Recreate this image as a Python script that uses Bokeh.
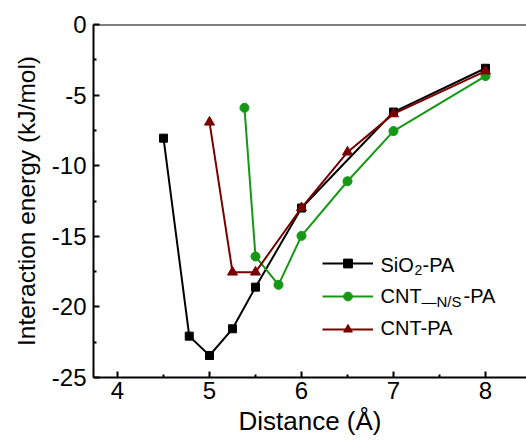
from bokeh.plotting import figure
from bokeh.models import (Range1d, Legend, LegendItem, Label, Span, FixedTicker)
from bokeh.embed import file_html
from bokeh.resources import INLINE

# ---- data ----
x_sio2 = [4.5, 4.78, 5.0, 5.25, 5.5, 6.0, 7.0, 8.0]
y_sio2 = [-8.05, -22.07, -23.44, -21.55, -18.6, -13.0, -6.2, -3.1]

x_cntns = [5.38, 5.5, 5.75, 6.0, 6.5, 7.0, 8.0]
y_cntns = [-5.9, -16.43, -18.44, -14.97, -11.1, -7.55, -3.65]

x_cnt = [5.0, 5.25, 5.5, 6.0, 6.5, 7.0, 8.0]
y_cnt = [-6.92, -17.54, -17.54, -12.98, -9.04, -6.33, -3.3]

x_ticks = [4, 5, 6, 7, 8]
y_ticks = [0, -5, -10, -15, -20, -25]
y_tick_labels = ["0", "-5", "-10", "-15", "-20", "-25"]

FONT = "Liberation Sans"
BLACK = "#000000"
GREEN = "#169816"
RED = "#7a0000"

W, H = 526, 446
LEFT, TOP, BOTTOM = 93, 24, 69

p = figure(width=W, height=H, output_backend="svg", toolbar_location=None,
           x_range=Range1d(3.739, 8.446), y_range=Range1d(-25, 0),
           min_border_left=LEFT, min_border_right=0, min_border_top=TOP,
           min_border_bottom=BOTTOM)
p.outline_line_color = None
p.grid.visible = False
p.background_fill_color = "white"
p.border_fill_color = "white"

# top frame line
p.add_layout(Span(location=0, dimension="width", line_color="black", line_width=2))

for ax in (p.xaxis[0], p.yaxis[0]):
    ax.axis_line_width = 2
    ax.axis_line_color = "black"
    ax.major_tick_in = 6
    ax.major_tick_out = 0
    ax.minor_tick_in = 3
    ax.minor_tick_out = 0
    ax.major_tick_line_width = 2
    ax.minor_tick_line_width = 2
    ax.major_label_text_font = FONT
    ax.major_label_text_font_size = "24px"
    ax.major_label_text_color = "black"
    ax.axis_label_text_font = FONT
    ax.axis_label_text_font_style = "normal"
    ax.axis_label_text_color = "black"

p.xaxis[0].ticker = FixedTicker(ticks=x_ticks, minor_ticks=[4.5, 5.5, 6.5, 7.5, 8.5])
p.yaxis[0].ticker = FixedTicker(ticks=y_ticks, minor_ticks=[-2.5, -7.5, -12.5, -17.5, -22.5])
p.yaxis[0].major_label_overrides = {t: s for t, s in zip(y_ticks, y_tick_labels)}
p.xaxis[0].axis_label = "Distance (Å)"
p.yaxis[0].axis_label = "Interaction energy (kJ/mol)"
p.xaxis[0].axis_label_text_font_size = "26px"
p.yaxis[0].axis_label_text_font_size = "24.5px"
p.xaxis[0].major_label_standoff = 4
p.xaxis[0].axis_label_standoff = 4
p.yaxis[0].major_label_standoff = 7
p.yaxis[0].axis_label_standoff = 9

l1 = p.line(x_sio2, y_sio2, line_color=BLACK, line_width=2)
m1 = p.scatter(x_sio2, y_sio2, marker="square", size=8, fill_color=BLACK, line_color=BLACK)
l2 = p.line(x_cntns, y_cntns, line_color=GREEN, line_width=2)
m2 = p.scatter(x_cntns, y_cntns, marker="circle", size=9, fill_color=GREEN, line_color=GREEN)
l3 = p.line(x_cnt, y_cnt, line_color=RED, line_width=2)
m3 = p.scatter(x_cnt, y_cnt, marker="triangle", size=10, fill_color=RED, line_color=RED)

# legend glyphs (labels drawn separately to allow subscripts)
row_y = [264.0, 296.5, 329.0]   # canvas y of legend rows
legend = Legend(items=[LegendItem(label=" ", renderers=[l1, m1]),
                       LegendItem(label=" ", renderers=[l2, m2]),
                       LegendItem(label=" ", renderers=[l3, m3])],
                location=(322 - LEFT, (H - BOTTOM) - (row_y[2] + 11)),
                glyph_width=51, glyph_height=22, label_height=22,
                label_standoff=0, label_width=0, spacing=11, padding=0, margin=0,
                border_line_color=None, background_fill_alpha=0,
                label_text_font_size="2px")
p.add_layout(legend)

frame_bottom = H - BOTTOM


def add_text(txt, cx, baseline_cy, size):
    p.add_layout(Label(x=cx - LEFT, y=frame_bottom - baseline_cy, x_units="screen",
                       y_units="screen", text=txt, text_font=FONT,
                       text_font_size=f"{size}px", text_baseline="alphabetic",
                       text_align="left", text_color="black"))


# baselines
b1 = row_y[0] + 0
b2 = row_y[1] - 1.5
b3 = row_y[2] - 2
add_text("SiO", 380, b1, 20)
add_text("2", 414, b1 + 5, 14)
add_text("-PA", 422, b1, 20)
add_text("CNT", 380, b2, 20)
add_text("—N/S", 421, b2 + 6, 15)
add_text("-PA", 463, b2, 20)
add_text("CNT-PA", 380, b3, 20)

open("out.html", "w").write(file_html(p, INLINE))
